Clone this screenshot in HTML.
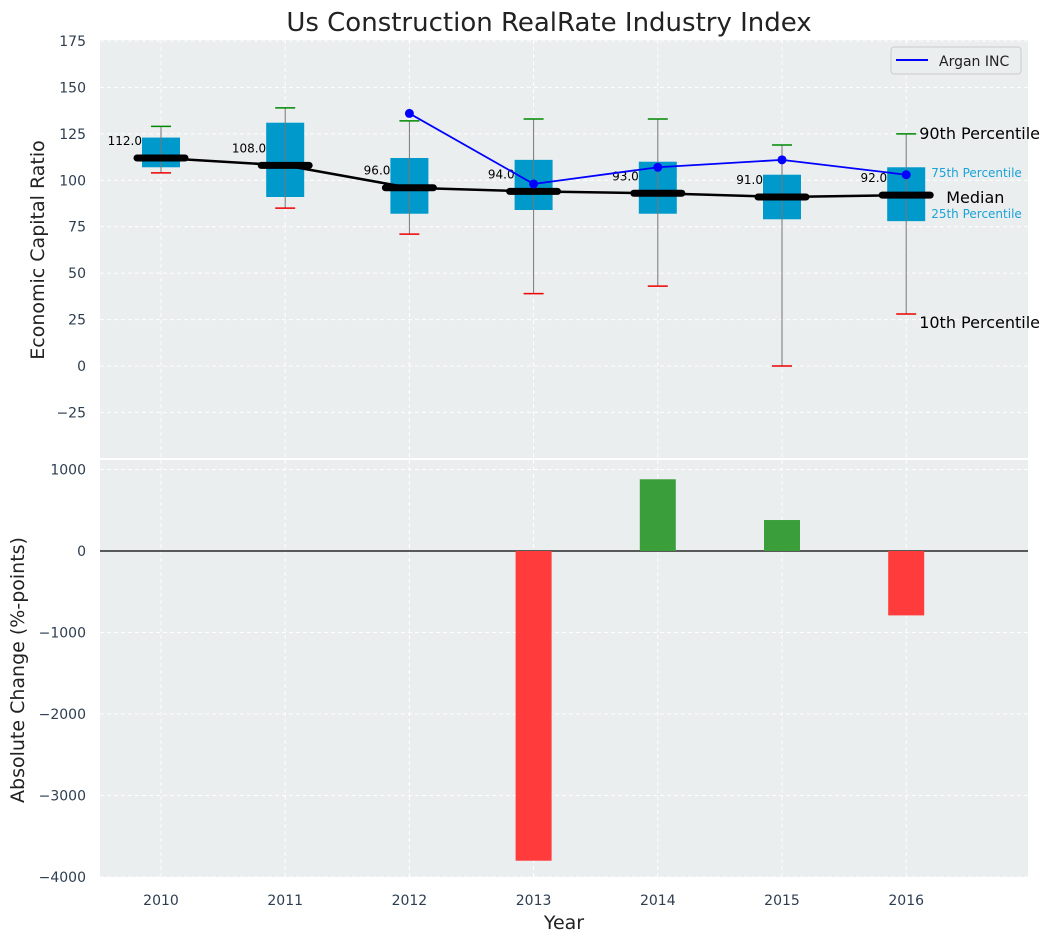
<!DOCTYPE html>
<html><head><meta charset="utf-8"><style>
body{margin:0;background:#fff;font-family:"Liberation Sans","DejaVu Sans",sans-serif}
</style></head><body>
<svg id="c" width="1054" height="942" xmlns="http://www.w3.org/2000/svg" font-family="DejaVu Sans, Liberation Sans, sans-serif"></svg>
<script>
const years=[2010,2011,2012,2013,2014,2015,2016];
const p10=[104,85,71,39,43,0,28];
const p25=[107,91,82,84,82,79,78];
const p75=[123,131,112,111,110,103,107];
const p90=[129,139,132,133,133,119,125];
const medians=[112,108,96,94,93,91,92];
const arganYears=[2012,2013,2014,2015,2016];
const arganVals=[136,98,107,111,103];
const changeYears=[2013,2014,2015,2016];
const changes=[-3800,880,380,-790];
const topTicks=[-25,0,25,50,75,100,125,150,175];
const botTicks=[-4000,-3000,-2000,-1000,0,1000];

const NS="http://www.w3.org/2000/svg";
const svg=document.getElementById('c');
function el(t,a,txt,name,parent){const e=document.createElementNS(NS,t);for(const k in a)e.setAttribute(k,a[k]);if(txt!==undefined)e.textContent=txt;


(parent||svg).appendChild(e);return e;}
const L=100,R=1028;
const x=i=>L+61+i*124.2;
const yT=v=>366-(v)*(325/175);
const yB=v=>551-v*0.0815;
el('rect',{x:L,y:40,width:R-L,height:418,fill:'#eaeeee'},undefined,'top-plot-area');
el('rect',{x:L,y:460,width:R-L,height:417,fill:'#eaeeee'},undefined,'bottom-plot-area');
years.forEach((yr,i)=>{
 el('line',{x1:x(i),x2:x(i),y1:40,y2:458,stroke:'#fff','stroke-dasharray':'4,3'},undefined,'x-grid-top');
 el('line',{x1:x(i),x2:x(i),y1:460,y2:877,stroke:'#fff','stroke-dasharray':'4,3'},undefined,'x-grid-bottom');
 el('text',{x:x(i),y:905,'font-size':14,fill:'#2d3e50','text-anchor':'middle'},String(yr),'x-tick-label');
});
topTicks.forEach(v=>{
 el('line',{x1:L,x2:R,y1:yT(v),y2:yT(v),stroke:'#fff','stroke-dasharray':'4,3'},undefined,'y-grid-top');
 el('text',{x:86,y:yT(v)+5,'font-size':14,fill:'#2d3e50','text-anchor':'end'},v<0?'\u2212'+(-v):String(v),'y-tick-label-top');
});
botTicks.forEach(v=>{
 el('line',{x1:L,x2:R,y1:yB(v),y2:yB(v),stroke:'#fff','stroke-dasharray':'4,3'},undefined,'y-grid-bottom');
 el('text',{x:86,y:yB(v)+5,'font-size':14,fill:'#2d3e50','text-anchor':'end'},v<0?'\u2212'+(-v):String(v),'y-tick-label-bottom');
});
years.forEach((yr,i)=>{
 const cx=x(i);
 el('rect',{x:cx-19,y:yT(p75[i]),width:38,height:yT(p25[i])-yT(p75[i]),fill:'#0099cc'},undefined,'box-'+yr);
 el('line',{x1:cx,x2:cx,y1:yT(p10[i]),y2:yT(p90[i]),stroke:'#777','stroke-width':1},undefined,'whisker-'+yr);
 el('line',{x1:cx-10,x2:cx+10,y1:yT(p10[i]),y2:yT(p10[i]),stroke:'#e00','stroke-width':1.5},undefined,'p10-cap-'+yr);
 el('line',{x1:cx-10,x2:cx+10,y1:yT(p90[i]),y2:yT(p90[i]),stroke:'#080','stroke-width':1.5},undefined,'p90-cap-'+yr);
});
el('polyline',{points:medians.map((v,i)=>x(i)+','+yT(v)).join(' '),fill:'none',stroke:'#000','stroke-width':2.5},undefined,'median-line');
medians.forEach((v,i)=>{
 el('line',{x1:x(i)-24,x2:x(i)+24,y1:yT(v),y2:yT(v),stroke:'#000','stroke-width':7,'stroke-linecap':'round'},undefined,'median-bar');
 el('text',{x:x(i)-19,y:yT(v)-13,'font-size':12,fill:'#000','text-anchor':'end'},v.toFixed(1),'median-label');
});
el('polyline',{points:arganYears.map((yr,j)=>x(years.indexOf(yr))+','+yT(arganVals[j])).join(' '),fill:'none',stroke:'#00f','stroke-width':1.8},undefined,'argan-line');
arganYears.forEach((yr,j)=>el('circle',{cx:x(years.indexOf(yr)),cy:yT(arganVals[j]),r:4.5,fill:'#00f'},undefined,'argan-point'));
const lx=x(6);
el('text',{x:lx+13,y:yT(p90[6])+5,'font-size':16,fill:'#000'},'90th Percentile','annotation-p90');
el('text',{x:lx+13,y:yT(p10[6])+14,'font-size':16,fill:'#000'},'10th Percentile','annotation-p10');
el('text',{x:lx+40,y:yT(medians[6])+8,'font-size':16,fill:'#000'},'Median','annotation-median');
el('text',{x:lx+25,y:177,'font-size':12,fill:'#1aa3d6'},'75th Percentile','annotation-p75');
el('text',{x:lx+25,y:218,'font-size':12,fill:'#1aa3d6'},'25th Percentile','annotation-p25');
el('rect',{x:891,y:47,width:130,height:27,fill:'#eaeeee',stroke:'#ccc',rx:3},undefined,'legend-box');
el('line',{x1:896,x2:928,y1:60,y2:60,stroke:'#00f','stroke-width':2},undefined,'legend-swatch');
el('text',{x:939,y:66,'font-size':14,fill:'#222'},'Argan INC','legend-label');
el('line',{x1:L,x2:R,y1:yB(0),y2:yB(0),stroke:'#000','stroke-width':1.2},undefined,'zero-line');
changeYears.forEach((yr,j)=>{
 const v=changes[j],cx=x(years.indexOf(yr));
 el('rect',{x:cx-18,y:Math.min(yB(0),yB(v)),width:36,height:Math.abs(yB(v)-yB(0)),fill:v<0?'#ff3b3b':'#3a9e3a'},undefined,'change-bar-'+yr);
});
el('text',{x:549,y:31,'font-size':26,fill:'#222','text-anchor':'middle'},'Us Construction RealRate Industry Index','chart-title');
el('text',{x:44,y:250,'font-size':19,fill:'#222','text-anchor':'middle',transform:'rotate(-90 44 250)'},'Economic Capital Ratio','y-axis-title-top');
el('text',{x:24,y:670,'font-size':19,fill:'#222','text-anchor':'middle',transform:'rotate(-90 24 670)'},'Absolute Change (%-points)','y-axis-title-bottom');
el('text',{x:564,y:929,'font-size':19,fill:'#222','text-anchor':'middle'},'Year','x-axis-title');
</script>
</body></html>
